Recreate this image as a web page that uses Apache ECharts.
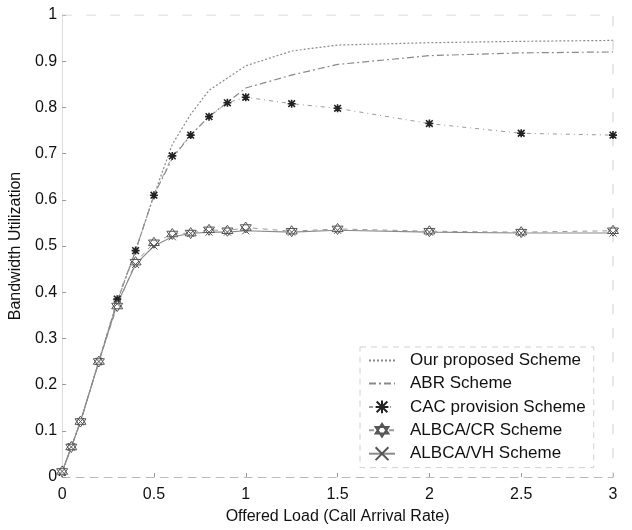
<!DOCTYPE html>
<html>
<head>
<meta charset="utf-8">
<script src="https://cdn.jsdelivr.net/npm/echarts@6/dist/echarts.min.js"></script>
<style>
  html, body { margin: 0; padding: 0; background: #fff; }
  #main { width: 632px; height: 530px; }
</style>
</head>
<body>
<div id="main"></div>
<script>
// offered load values (x)
const loadAll = [0, 0.05, 0.1, 0.2, 0.3, 0.4, 0.5, 0.6, 0.7, 0.8, 0.9, 1, 1.25, 1.5, 2, 2.5, 3];
const loadCurve = [0, 0.05, 0.1, 0.2, 0.3, 0.4, 0.5, 0.6, 0.7, 0.8, 1, 1.25, 1.5, 2, 2.5, 3];

// bandwidth utilization per scheme
const proposed = [0.01, 0.065, 0.12, 0.25, 0.38, 0.49, 0.61, 0.72, 0.785, 0.837, 0.89, 0.922, 0.935, 0.94, 0.943, 0.945];
const abr      = [0.01, 0.065, 0.12, 0.25, 0.38, 0.49, 0.61, 0.69, 0.74, 0.78, 0.842, 0.87, 0.893, 0.912, 0.918, 0.92];
const cac      = [0.01, 0.065, 0.12, 0.25, 0.385, 0.49, 0.61, 0.695, 0.74, 0.78, 0.81, 0.822, 0.808, 0.798, 0.765, 0.744, 0.74];
const albcaCR  = [0.012, 0.065, 0.12, 0.25, 0.37, 0.465, 0.507, 0.526, 0.528, 0.535, 0.533, 0.54, 0.532, 0.537, 0.532, 0.53, 0.533];
const albcaVH  = [0.012, 0.065, 0.12, 0.25, 0.375, 0.46, 0.5, 0.52, 0.527, 0.53, 0.53, 0.533, 0.53, 0.534, 0.53, 0.528, 0.528];

const xTicks = [0, 0.5, 1, 1.5, 2, 2.5, 3];
const yTicks = [0, 0.1, 0.2, 0.3, 0.4, 0.5, 0.6, 0.7, 0.8, 0.9, 1];

const names = ['Our proposed Scheme', 'ABR Scheme', 'CAC provision Scheme', 'ALBCA/CR Scheme', 'ALBCA/VH Scheme'];

const pair = (xs, ys) => xs.map((x, i) => [x, ys[i]]);

const starPath = 'path://M0,0L10,10M10,0L0,10M5,-1L5,11M-1,5L11,5';
const hexPath = 'path://M5,0L9.33,7.5L0.67,7.5ZM5,10L0.67,2.5L9.33,2.5Z';
const crossPath = 'path://M0,0L10,10M10,0L0,10';

const font = 'Liberation Sans, Arial, sans-serif';

const myChart = echarts.init(document.getElementById('main'));

const option = {
  backgroundColor: '#fff',
  animation: false,
  textStyle: { fontFamily: font },
  grid: { left: 62, right: 19, top: 15, bottom: 53 },
  legend: {
    orient: 'vertical',
    left: 360,
    top: 347,
    width: 230,
    padding: [5, 8, 5, 8],
    itemGap: 6,
    itemWidth: 26,
    itemHeight: 16,
    borderColor: '#d0d0d0',
    borderWidth: 1,
    borderType: [6, 5],
    backgroundColor: '#fff',
    textStyle: { fontSize: 17, color: '#111', fontFamily: font, padding: [0, 0, 0, 10] },
    data: [
      { name: names[0], itemStyle: { opacity: 0 } },
      { name: names[1], itemStyle: { opacity: 0 } },
      { name: names[2] },
      { name: names[3] },
      { name: names[4] }
    ]
  },
  xAxis: {
    type: 'value',
    min: 0, max: 3, interval: 0.5,
    name: 'Offered Load (Call Arrival Rate)',
    nameLocation: 'middle',
    nameGap: 32,
    nameTextStyle: { fontSize: 16, color: '#111' },
    axisLine: { show: true, lineStyle: { color: '#bbb', type: [8, 6], width: 1 } },
    axisTick: { show: true, inside: true, length: 4, lineStyle: { color: '#999' } },
    axisLabel: {
      fontSize: 16, color: '#111', margin: 10,
      formatter: v => xTicks.includes(v) ? String(v) : ''
    },
    splitLine: { show: false }
  },
  yAxis: {
    type: 'value',
    min: 0, max: 1, interval: 0.1,
    name: 'Bandwidth Utilization',
    nameLocation: 'middle',
    nameGap: 38,
    nameTextStyle: { fontSize: 16, color: '#111' },
    axisLine: { show: true, lineStyle: { color: '#ddd', width: 1 } },
    axisTick: { show: true, inside: true, length: 4, lineStyle: { color: '#999' } },
    axisLabel: {
      fontSize: 16, color: '#111', margin: 5,
      formatter: v => {
        const t = yTicks.find(k => Math.abs(k - v) < 1e-6);
        return t === undefined ? '' : String(t);
      }
    },
    splitLine: { show: false }
  },
  series: [
    {
      name: names[0], type: 'line', data: pair(loadCurve, proposed),
      showSymbol: false, symbol: 'none',
      lineStyle: { color: '#8a8a8a', width: 1.2, type: [2, 2] },
      itemStyle: { color: '#8a8a8a' }
    },
    {
      name: names[1], type: 'line', data: pair(loadCurve, abr),
      showSymbol: false, symbol: 'none',
      lineStyle: { color: '#8a8a8a', width: 1.2, type: [7, 3, 2, 3] },
      itemStyle: { color: '#8a8a8a' }
    },
    {
      name: names[2], type: 'line', data: pair(loadAll, cac),
      symbol: starPath, symbolSize: 8,
      lineStyle: { color: '#9a9a9a', width: 1, type: [4, 4, 1, 4] },
      itemStyle: { color: 'none', borderColor: '#222', borderWidth: 1.6 }
    },
    {
      name: names[3], type: 'line', data: pair(loadAll, albcaCR),
      symbol: hexPath, symbolSize: 11,
      lineStyle: { color: '#9a9a9a', width: 1, type: [5, 5] },
      itemStyle: { color: '#fff', borderColor: '#555', borderWidth: 1 }
    },
    {
      name: names[4], type: 'line', data: pair(loadAll, albcaVH),
      symbol: crossPath, symbolSize: 7,
      lineStyle: { color: '#8a8a8a', width: 1.1, type: 'solid' },
      itemStyle: { color: 'none', borderColor: '#555', borderWidth: 1 }
    },
    {
      // faint top and right frame of the plot box
      type: 'line', silent: true, symbol: 'none', legendHoverLink: false,
      data: [[0, 1], [3, 1], [3, 0]],
      lineStyle: { color: '#cfcfcf', width: 1, type: [10, 14] },
      tooltip: { show: false }
    }
  ]
};

myChart.setOption(option);
</script>
</body>
</html>
